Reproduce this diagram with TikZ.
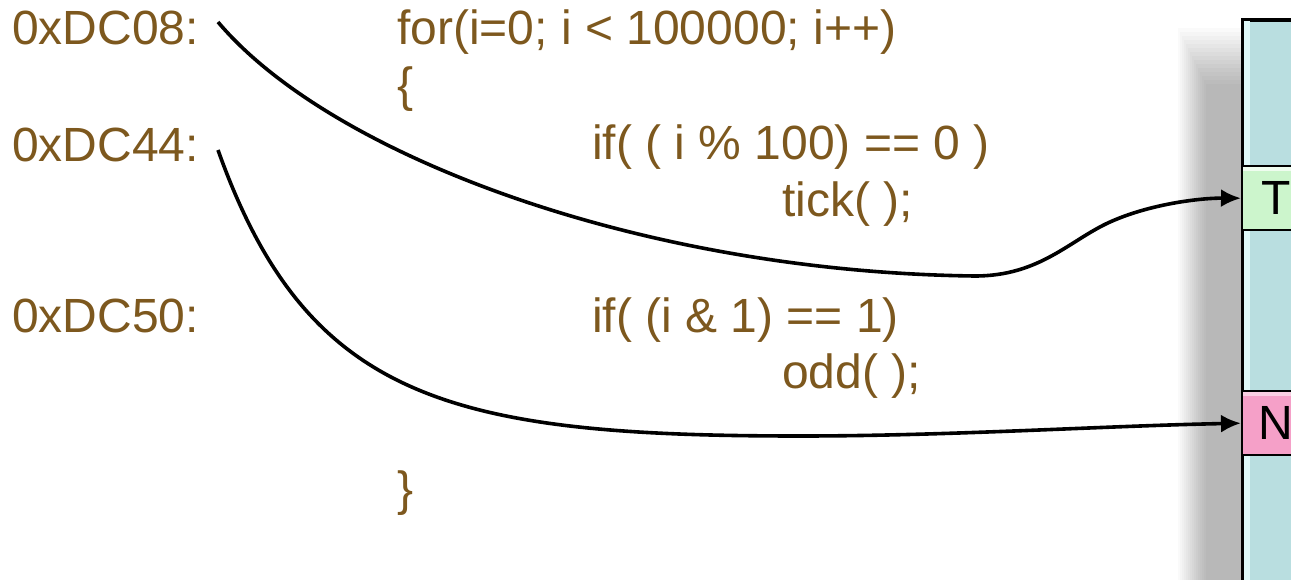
\documentclass[tikz,border=0pt]{standalone}
\usepackage{fontspec}
\setmainfont{Liberation Sans}
\usetikzlibrary{arrows.meta}
\definecolor{codebrown}{RGB}{125,88,30}
\definecolor{memfill}{RGB}{185,222,224}
\definecolor{memlight}{RGB}{222,248,248}
\definecolor{tfill}{RGB}{204,245,204}
\definecolor{nfill}{RGB}{245,160,200}
\begin{document}
\begin{tikzpicture}[x=1pt,y=-1pt,
  code/.style={anchor=base west, text=codebrown, font=\fontsize{48}{58}\selectfont, inner sep=0pt},
  slotlabel/.style={anchor=base west, text=black, font=\fontsize{48}{58}\selectfont, inner sep=0pt},
  slot/.style={draw=black, line width=2.4pt, anchor=north west, minimum width=90pt, minimum height=64pt, inner sep=0pt},
  link/.style={line width=3.6pt, -{Latex[length=20pt,width=18pt]}}]
\useasboundingbox (0,0) rectangle (1291,580);
\fill[white] (0,0) rectangle (1291,580);
% shadow of the memory column
\foreach \i in {0,...,14}
  \fill[black,opacity=0.02] (1178+\i*2, 28+\i*4) rectangle (1241,600);
% memory column
\node (mem) [draw=black, line width=3.6pt, fill=memfill, anchor=north west,
  minimum width=90pt, minimum height=600pt, inner sep=0pt] at (1241,18) {};
\fill[memlight] (1244,21) rectangle (1250,600);
\node (T) [slot, fill=tfill] at (1241,165) {};
\fill[white,opacity=0.7] (1243,167) rectangle (1300,171);
\node (N) [slot, fill=nfill] at (1241,390) {};
\fill[white,opacity=0.5] (1243,392) rectangle (1300,396);
\node (Tlab) [slotlabel] at (1261,215) {T};
\node (Nlab) [slotlabel] at (1258,439) {N};
% addresses
\node (a08) [code] at (12,45) {0xDC08:};
\node (a44) [code] at (12,162) {0xDC44:};
\node (a50) [code] at (12,332) {0xDC50:};
% code
\node (l1) [code] at (397,45) {for(i=0; i < 100000; i++)};
\node (l2) [code] at (397,102) {\{};
\node (l3) [code] at (592,160) {if( ( i \% 100) == 0 )};
\node (l4) [code] at (782,217) {tick( );};
\node (l5) [code] at (592,332) {if( (i \& 1) == 1)};
\node (l6) [code] at (782,388) {odd( );};
\node (l7) [code] at (397,505) {\}};
% connectors
\coordinate (c08) at (218,22);
\coordinate (c44) at (218,150);
\draw[link] (c08) .. controls (330,155) and (640,272) .. (975,276)
  .. controls (1040,276) and (1070,240) .. (1110,222)
  .. controls (1150,204) and (1200,198) .. (T.west);
\draw[link] (c44) .. controls (307,400) and (450,436) .. (800,436)
  .. controls (950,436) and (1100,426) .. (N.west);
\end{tikzpicture}
\end{document}
